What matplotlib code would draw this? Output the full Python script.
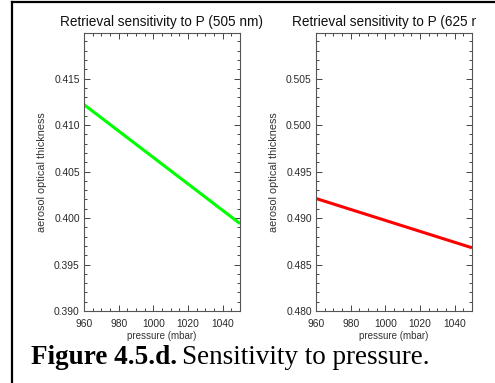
import matplotlib
matplotlib.use("Agg")
import matplotlib.pyplot as plt
from matplotlib.ticker import MultipleLocator
from matplotlib.transforms import Bbox

# data
pressure = [960, 1050]
aot_505 = [0.4122, 0.3994]
aot_625 = [0.4921, 0.4868]

titles = ["Retrieval sensitivity to P (505 nm)", "Retrieval sensitivity to P (625 nm)"]
ylims = [(0.390, 0.4199), (0.480, 0.5099)]
colors = ["#00ff00", "#ff0000"]
series = [aot_505, aot_625]

plt.rcParams["font.family"] = ["Liberation Sans", "DejaVu Sans"]

fig = plt.figure(figsize=(4.95, 3.83), dpi=100)

lefts = [84 / 495, 316 / 495]
for i in range(2):
    ax = fig.add_axes([lefts[i], 1 - 311 / 383, 156 / 495, 278 / 383])
    ax.plot(pressure, series[i], color=colors[i], lw=2.2, solid_capstyle="butt")
    ax.set_xlim(960, 1050)
    ax.set_ylim(*ylims[i])
    ax.xaxis.set_major_locator(MultipleLocator(20))
    ax.xaxis.set_minor_locator(MultipleLocator(5))
    ax.yaxis.set_major_locator(MultipleLocator(0.005))
    ax.yaxis.set_minor_locator(MultipleLocator(0.001))
    ax.yaxis.set_major_formatter(plt.FormatStrFormatter("%.3f"))
    ax.tick_params(which="both", direction="in", top=True, right=True,
                   labelsize=7.4, colors="#444444", labelcolor="#2a2a2a", width=0.7)
    ax.tick_params(which="major", length=4)
    ax.tick_params(axis="x", which="major", pad=6)
    ax.tick_params(axis="y", which="major", pad=3)
    ax.tick_params(which="minor", length=2)
    for s in ax.spines.values():
        s.set_color("#555555")
        s.set_linewidth(0.8)
    ax.set_xlabel("pressure (mbar)", fontsize=7, color="#333333", labelpad=1)
    ax.set_ylabel("aerosol optical thickness", fontsize=7.8, color="#333333", labelpad=5)
    t = fig.text(lefts[i] + 78 / 495, 1 - 22 / 383, titles[i], ha="center", va="center",
                 fontsize=9.8, color="#111111")
    if i == 1:
        # the original picture cuts this title off at its right edge
        t.set_clip_box(Bbox([[0, 0], [476, 383]]))
        t.set_clip_on(True)

# caption
cap = fig.text(31 / 495, 1 - 358 / 383, "Figure 4.5.d.", fontfamily="Liberation Serif",
               fontweight="bold", fontsize=19.5, va="center", ha="left")
fig.canvas.draw()
bb = cap.get_window_extent()
fig.text(bb.x1 / 495 + 0.009, 1 - 358 / 383, "Sensitivity to pressure.",
         fontfamily="Liberation Serif", fontsize=19.5, va="center", ha="left")

# page frame lines
fig.add_artist(plt.Line2D([12 / 495, 12 / 495], [0, 1 - 1.5 / 383], color="black", lw=1.6,
                          transform=fig.transFigure))
fig.add_artist(plt.Line2D([12 / 495, 1], [1 - 1.5 / 383, 1 - 1.5 / 383], color="black", lw=1.6,
                          transform=fig.transFigure))

fig.savefig("out.png", dpi=100)
